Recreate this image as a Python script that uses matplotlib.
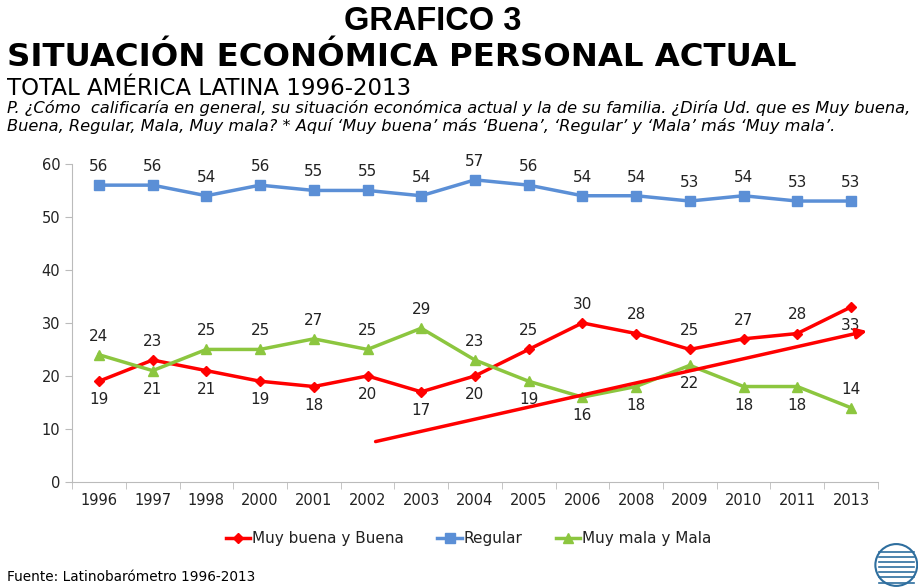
import numpy as np
import matplotlib.pyplot as plt
from matplotlib.patches import Circle

plt.rcParams['font.family'] = ['DejaVu Sans']

years = ['1996', '1997', '1998', '2000', '2001', '2002', '2003', '2004',
         '2005', '2006', '2008', '2009', '2010', '2011', '2013']
buena = [19, 23, 21, 19, 18, 20, 17, 20, 25, 30, 28, 25, 27, 28, 33]
regular = [56, 56, 54, 56, 55, 55, 54, 57, 56, 54, 54, 53, 54, 53, 53]
mala = [24, 21, 25, 25, 27, 25, 29, 23, 19, 16, 18, 22, 18, 18, 14]

# label above (1) or below (-1) the point
buena_pos = [-1, 1, -1, -1, -1, -1, -1, -1, 1, 1, 1, 1, 1, 1, -1]
mala_pos = [1, -1, 1, 1, 1, 1, 1, 1, -1, -1, -1, -1, -1, -1, 1]

# hand-drawn trend arrow (category index, value)
trend_x = [5.1, 14.35]
trend_y = [7.5, 28.6]

red = '#FF0000'
blue = '#5B8FD6'
green = '#8CC63F'
txt = '#222222'

fig = plt.figure(figsize=(9.24, 5.87), dpi=100)
ax = fig.add_axes([0.078, 0.179, 0.872, 0.5417])

x = np.arange(len(years))
ax.plot(x, buena, color=red, lw=2.5, marker='D', ms=5, label='Muy buena y Buena')
ax.plot(x, regular, color=blue, lw=2.5, marker='s', ms=7, label='Regular')
ax.plot(x, mala, color=green, lw=2.5, marker='^', ms=7, label='Muy mala y Mala')

for i in x:
    ax.annotate(str(regular[i]), (i, regular[i]), xytext=(0, 8), textcoords='offset points',
                ha='center', va='bottom', fontsize=11, color=txt)
    ax.annotate(str(buena[i]), (i, buena[i]), xytext=(0, 8 * buena_pos[i]), textcoords='offset points',
                ha='center', va='bottom' if buena_pos[i] > 0 else 'top', fontsize=11, color=txt)
    ax.annotate(str(mala[i]), (i, mala[i]), xytext=(0, 8 * mala_pos[i]), textcoords='offset points',
                ha='center', va='bottom' if mala_pos[i] > 0 else 'top', fontsize=11, color=txt)

ax.annotate('', xy=(trend_x[1], trend_y[1]), xytext=(trend_x[0], trend_y[0]),
            arrowprops=dict(arrowstyle='-|>', color=red, lw=2.5, mutation_scale=15))

ax.set_xlim(-0.5, len(years) - 0.5)
ax.set_ylim(0, 60)
ax.set_yticks(range(0, 61, 10))
ax.set_xticks(x)
ax.set_xticklabels(years, fontsize=10.5, color=txt)
ax.set_xticks(np.arange(-0.5, len(years), 1), minor=True)
ax.tick_params(axis='x', which='major', length=0, pad=8)
ax.tick_params(axis='x', which='minor', length=5, color='#BBBBBB')
ax.tick_params(axis='y', length=5, color='#BBBBBB', labelsize=10.5, labelcolor=txt)
for s in ['top', 'right']:
    ax.spines[s].set_visible(False)
for s in ['left', 'bottom']:
    ax.spines[s].set_color('#BBBBBB')

ax.legend(loc='upper center', bbox_to_anchor=(0.492, -0.112), ncol=3, frameon=False,
          fontsize=11, handlelength=1.6, handletextpad=0.1, columnspacing=2.2,
          labelcolor=txt)

fig.text(0.468, 0.964, 'GRAFICO 3', ha='center', va='center', fontsize=23.5,
         fontweight='bold', family='Liberation Sans')
fig.text(0.008, 0.887, 'SITUACIÓN ECONÓMICA PERSONAL ACTUAL', ha='left', va='baseline',
         fontsize=23.3, fontweight='bold')
fig.text(0.008, 0.839, 'TOTAL AMÉRICA LATINA 1996-2013', ha='left', va='baseline', fontsize=16.5)
fig.text(0.008, 0.816, 'P. ¿Cómo  calificaría en general, su situación económica actual y la de su familia. '
         '¿Diría Ud. que es Muy buena,', ha='left', va='center', fontsize=11.7, style='italic')
fig.text(0.008, 0.786, 'Buena, Regular, Mala, Muy mala? * Aquí ‘Muy buena’ más ‘Buena’, ‘Regular’ y '
         '‘Mala’ más ‘Muy mala’.', ha='left', va='center', fontsize=11.7, style='italic')
fig.text(0.008, 0.017, 'Fuente: Latinobarómetro 1996-2013', ha='left', va='center', fontsize=9.8)

# small logo mark in the corner
lx = fig.add_axes([0.935, 0.0, 0.07, 0.075])
lx.set_xlim(-1, 1)
lx.set_ylim(-1, 1)
lx.set_aspect('equal')
lx.axis('off')
lx.add_patch(Circle((0, 0), 0.95, fc='white', ec='#2E6E9E', lw=1.5))
for yy in np.linspace(-0.8, 0.6, 7):
    lx.plot([-0.8, 0.8], [yy, yy], color='#2E6E9E', lw=1.2, clip_on=True)

fig.savefig('out.png', dpi=100)
